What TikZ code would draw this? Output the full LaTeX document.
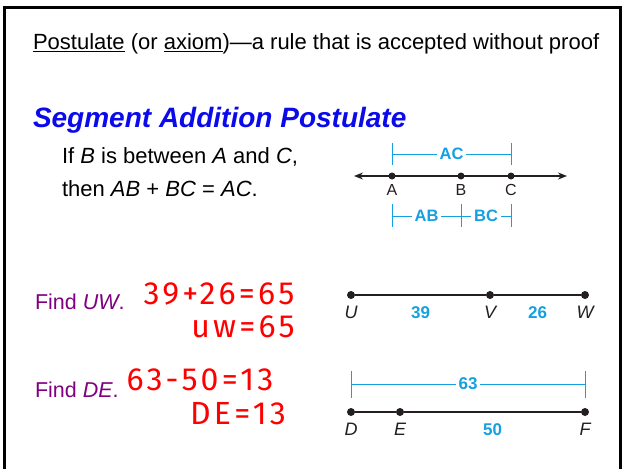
\documentclass[tikz,border=0pt]{standalone}
\usepackage{fontspec}
\setmainfont{Liberation Sans}
\newfontfamily\handfont[LetterSpace=10]{Fira Sans}
\usetikzlibrary{arrows.meta, positioning}

\definecolor{titleblue}{RGB}{10,10,235}
\definecolor{measure}{RGB}{20,160,225}
\definecolor{findpurple}{RGB}{128,0,128}
\definecolor{ink}{RGB}{35,31,32}

\begin{document}
\begin{tikzpicture}[
    x=1pt, y=-1pt,
    every node/.style={inner sep=0pt, outer sep=0pt},
    txt/.style={anchor=base west, font=\fontsize{22}{26}\selectfont},
    find/.style={anchor=base west, text=findpurple, font=\fontsize{21.5}{25}\selectfont},
    hand/.style={text=red, font=\handfont\fontsize{32}{35}\selectfont},
    dot/.style={circle, fill=ink, minimum size=8pt},
    seg/.style={ink, line width=2pt},
    brk/.style={measure, line width=1pt},
    barlabel/.style={fill=white, inner xsep=3pt, text=measure, font=\fontsize{16.5}{18}\selectfont\bfseries},
    num/.style={text=measure, font=\fontsize{17}{19}\selectfont\bfseries},
    ptname/.style={text=ink, font=\fontsize{18}{20}\selectfont\itshape},
    smallname/.style={text=ink, font=\fontsize{16}{18}\selectfont}
]
\useasboundingbox (0,0) rectangle (623,468);

% Frame
\draw[line width=3pt] (4,475) -- (4,8) -- (620,8) -- (620,475);

% Text
\node[txt] (def) at (33,50) {\underline{Postulate} (or \underline{axiom})---a rule that is accepted without proof};
\node[anchor=base west, text=titleblue, font=\fontsize{28}{32}\selectfont\bfseries\itshape] (title) at (33,128) {Segment Addition Postulate};
\node[txt] (if) at (62,163) {If \textit{B} is between \textit{A} and \textit{C},};
\node[txt] (then) at (62,196) {then \textit{AB} + \textit{BC} = \textit{AC}.};

% Number line A B C
\coordinate (la) at (354,176);
\coordinate (ra) at (567,176);
\draw[seg, line width=1.5pt, {Stealth[length=9pt, width=7pt]}-{Stealth[length=9pt, width=7pt]}] (la) -- (ra);
\node[dot, minimum size=7pt] (A) at (392,176) {};
\node[dot, minimum size=7pt] (B) at (461,176) {};
\node[dot, minimum size=7pt] (C) at (511,176) {};
\node[smallname, below=5pt of A] (lA) {A};
\node[smallname, below=5pt of B] (lB) {B};
\node[smallname, below=5pt of C] (lC) {C};

% Brackets
\foreach \p in {A,C} \draw[brk] (\p |- 0,143) -- (\p |- 0,165);
\draw[brk] (A |- 0,154) -- node[barlabel] {AC} (C |- 0,154);
\foreach \p in {A,B,C} \draw[brk] (\p |- 0,204) -- (\p |- 0,227);
\draw[brk] (A |- 0,216) -- node[barlabel] {AB} (B |- 0,216);
\draw[brk] (B |- 0,216) -- node[barlabel] {BC} (C |- 0,216);

% Find UW
\node[find] (findUW) at (35,309) {Find \textit{UW}.};
\node[hand] (sumUW) at (219,294) {39+26=65};
\node[hand] (ansUW) at (243,327) {uw=65};

\node[dot] (U) at (351,295) {};
\node[dot] (V) at (490,295) {};
\node[dot] (W) at (585,295) {};
\draw[seg] (U) -- node[num, yshift=-18pt] {39} (V);
\draw[seg] (V) -- node[num, yshift=-18pt] {26} (W);
\node[ptname, below=7pt of U] (lU) {U};
\node[ptname, below=7pt of V] (lV) {V};
\node[ptname, below=7pt of W] (lW) {W};

% Find DE
\node[find] (findDE) at (35,397) {Find \textit{DE}.};
\node[hand] (sumDE) at (200,380) {63-50=13};
\node[hand] (ansDE) at (238,414) {DE=13};

\node[dot] (D) at (351,412) {};
\node[dot] (E) at (400,412) {};
\node[dot] (F) at (585,412) {};
\draw[seg] (D) -- (E);
\draw[seg] (E) -- node[num, yshift=-18pt] {50} (F);
\node[ptname, below=7pt of D] (lD) {D};
\node[ptname, below=7pt of E] (lE) {E};
\node[ptname, below=7pt of F] (lF) {F};

\foreach \p in {D,F} \draw[brk] (\p |- 0,371) -- (\p |- 0,398);
\draw[brk] (D |- 0,384) -- node[barlabel, font=\fontsize{17}{19}\selectfont\bfseries] {63} (F |- 0,384);

\end{tikzpicture}
\end{document}
